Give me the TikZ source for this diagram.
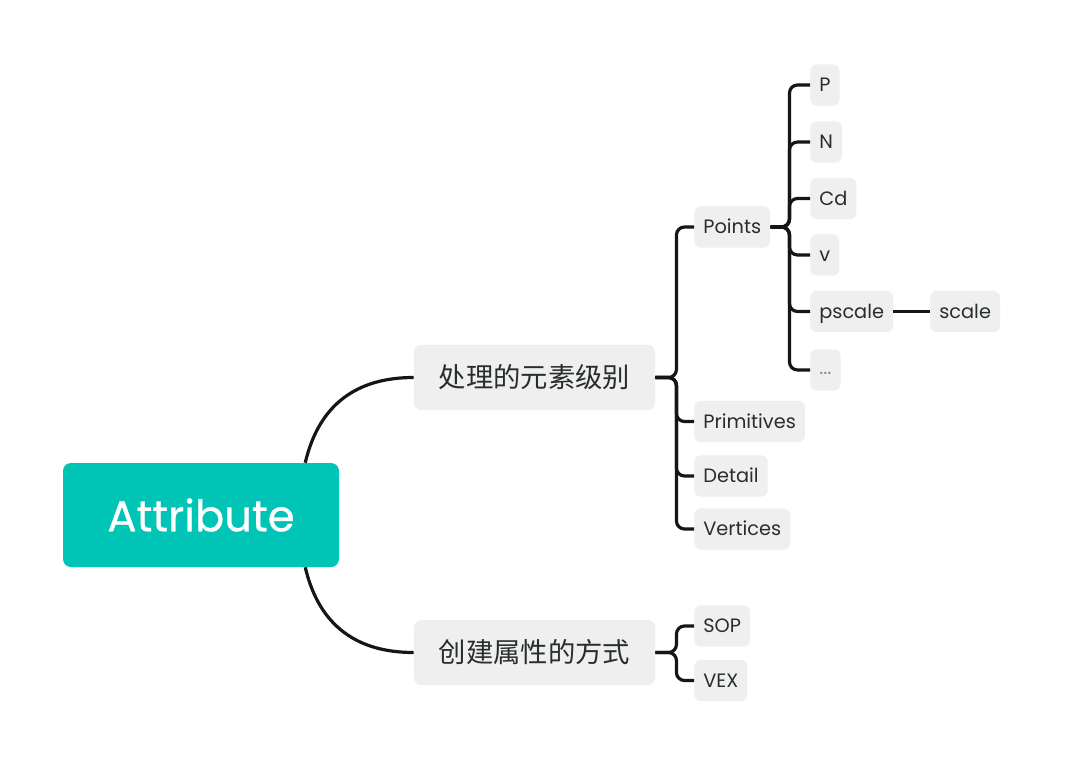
\documentclass[tikz,border=0pt]{standalone}
\usepackage{fontspec}
\setmainfont{Poppins}
\newfontfamily\rootfont[FakeBold=0.6]{Poppins}
\newfontfamily\cjk{Noto Sans CJK SC}
\usetikzlibrary{calc}
\definecolor{teal1}{RGB}{0,196,182}
\definecolor{boxgray}{RGB}{239,239,239}
\definecolor{txt}{RGB}{40,46,44}
\definecolor{edge}{RGB}{22,22,22}
\tikzset{
  rootbox/.style={fill=teal1, rounded corners=6pt, text=white, font=\rootfont\fontsize{32.5}{38}\selectfont,
    minimum width=207pt, minimum height=78pt, inner sep=0pt},
  midbox/.style={fill=boxgray, rounded corners=6pt, text=txt, font=\cjk\fontsize{20.5}{26}\selectfont,
    minimum width=181pt, minimum height=49pt, inner sep=0pt},
  leafbox/.style={fill=boxgray, rounded corners=5pt, text=txt, font=\fontsize{14.5}{18}\selectfont,
    minimum height=31pt, inner xsep=6.8pt, inner ysep=0pt, text height=10pt, text depth=0pt, anchor=west},
  conn/.style={draw=edge, line width=2.4pt, rounded corners=6pt},
  curveconn/.style={draw=edge, line width=2.4pt}
}
\begin{document}
\begin{tikzpicture}[x=0.75pt,y=-0.75pt]
\useasboundingbox (0,0) rectangle (1080,774);
\fill[white] (0,0) rectangle (1080,774);
% nodes
\node[rootbox] (root) at (201,515) {Attribute};
\node[midbox] (l1) at (534.5,377.5) {处理的元素级别};
\node[midbox] (l2) at (534.5,652.5) {创建属性的方式};
\node[leafbox] (points) at (694,227) {Points};
\node[leafbox] (prim) at (694,421.5) {Primitives};
\node[leafbox] (detail) at (694,476) {Detail};
\node[leafbox] (vert) at (694,529) {Vertices};
\node[leafbox] (sop) at (694,626) {SOP};
\node[leafbox] (vex) at (694,680.5) {VEX};
\node[leafbox] (p) at (810,85) {P};
\node[leafbox] (n) at (810,142) {N};
\node[leafbox] (cd) at (810,198.5) {Cd};
\node[leafbox] (v) at (810,255) {v};
\node[leafbox] (pscale) at (810,311.5) {pscale};
\node[leafbox] (scale) at (930,311.5) {scale};
\node[leafbox, text=black!45, text height=7pt] (dots) at (810,370) {...};
% root curves
\coordinate (rt) at ($(root.north east)+(-34,0)$);
\coordinate (rb) at ($(root.south east)+(-34,0)$);
\draw[curveconn] (rt) .. controls ($(rt)+(14,-60)$) and ($(l1.west)+(-55,0)$) .. (l1.west);
\draw[curveconn] (rb) .. controls ($(rb)+(14,60)$) and ($(l2.west)+(-55,0)$) .. (l2.west);
% level 1 branches
\foreach \c in {points,prim,detail,vert}
  \draw[conn] (l1.east) -- ++(21,0) |- (\c.west);
\foreach \c in {sop,vex}
  \draw[conn] (l2.east) -- ++(21,0) |- (\c.west);
\foreach \c in {p,n,cd,v,pscale,dots}
  \draw[conn] (points.east) -- ++(19,0) |- (\c.west);
\draw[conn] (pscale.east) -- (scale.west);
\end{tikzpicture}
\end{document}
